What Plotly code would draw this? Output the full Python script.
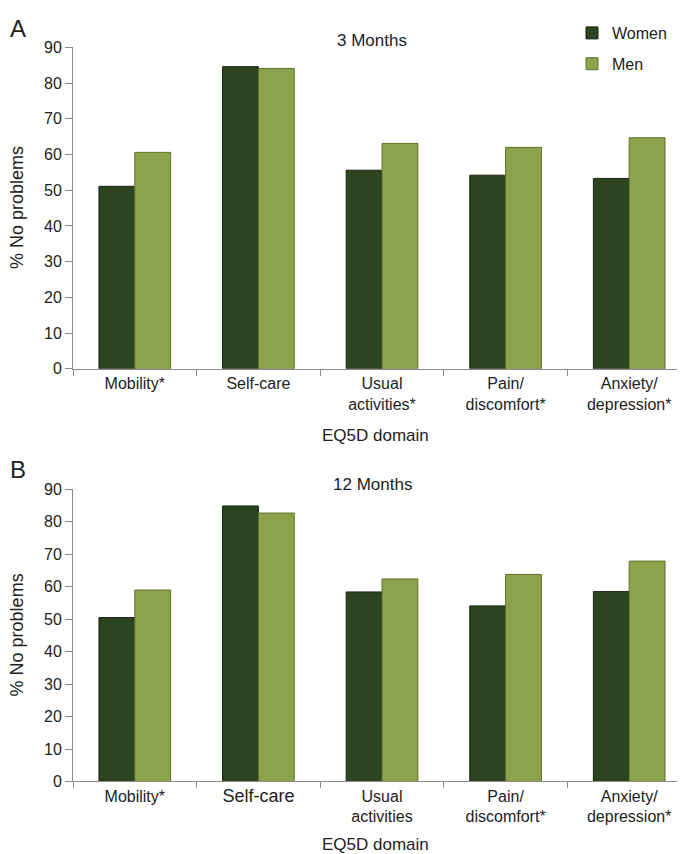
import plotly.graph_objects as go

domains = ["Mobility", "Self-care", "Usual activities", "Pain/discomfort", "Anxiety/depression"]
labels_3m = ["Mobility*", "Self-care", "Usual<br>activities*", "Pain/<br>discomfort*", "Anxiety/<br>depression*"]
labels_12m = ["Mobility*", "<span style='font-size:18px'>Self-care</span>", "Usual<br>activities",
              "Pain/<br>discomfort*", "Anxiety/<br>depression*"]

women_3m = [51.1, 84.6, 55.6, 54.2, 53.3]
men_3m = [60.6, 84.1, 63.1, 62.0, 64.7]
women_12m = [50.5, 84.9, 58.4, 54.1, 58.5]
men_12m = [59.0, 82.7, 62.4, 63.8, 67.9]

W = 685
H = 854
WOMEN_COL = "#2c4421"
MEN_COL = "#8da34b"
FONT = "Liberation Sans, Arial, sans-serif"


def py(px):
    # pixel row -> paper coordinate
    return 1 - px / H


fig = go.Figure()
fig.add_trace(go.Bar(x=domains, y=women_3m, name="Women", marker=dict(color=WOMEN_COL, line=dict(color="#18260f", width=1)),
                     xaxis="x", yaxis="y", legendgroup="w"))
fig.add_trace(go.Bar(x=domains, y=men_3m, name="Men", marker=dict(color=MEN_COL, line=dict(color="#5f7229", width=1)),
                     xaxis="x", yaxis="y", legendgroup="m"))
fig.add_trace(go.Bar(x=domains, y=women_12m, name="Women", marker=dict(color=WOMEN_COL, line=dict(color="#18260f", width=1)),
                     xaxis="x2", yaxis="y2", showlegend=False))
fig.add_trace(go.Bar(x=domains, y=men_12m, name="Men", marker=dict(color=MEN_COL, line=dict(color="#5f7229", width=1)),
                     xaxis="x2", yaxis="y2", showlegend=False))

xdom = [65 / W, 683 / W]
xcommon = dict(domain=xdom, type="category", showline=True, linecolor="#8c8c8c", linewidth=1,
               ticks="outside", tickson="boundaries", ticklen=6, tickcolor="#8c8c8c",
               tickfont=dict(family=FONT, size=16, color="#222"), showgrid=False)
ycommon = dict(range=[0, 90], dtick=10, showline=True, linecolor="#8c8c8c", linewidth=1,
               ticks="outside", ticklen=7, tickcolor="#8c8c8c", showgrid=False, zeroline=False,
               tickfont=dict(family=FONT, size=16, color="#222"))

fig.update_layout(
    width=W, height=H,
    margin=dict(l=0, r=0, t=0, b=0),
    paper_bgcolor="white", plot_bgcolor="white",
    barmode="group", bargap=0.42, bargroupgap=0,
    font=dict(family=FONT, color="#222"),
    xaxis=dict(**xcommon, anchor="y", tickvals=domains, ticktext=labels_3m),
    yaxis=dict(**ycommon, domain=[py(360), py(32)], anchor="x"),
    xaxis2=dict(**xcommon, anchor="y2", tickvals=domains, ticktext=labels_12m),
    yaxis2=dict(**ycommon, domain=[py(781), py(483)], anchor="x2"),
    legend=dict(x=564 / W, y=1.0, xanchor="left", yanchor="top", tracegroupgap=7,
                font=dict(family=FONT, size=16, color="#222"), bgcolor="rgba(0,0,0,0)"),
    showlegend=True,
)

ann = [
    ("A", 10, 13, 24, "left"),
    ("3 Months", 364, 25, 17, "center"),
    ("EQ5D domain", 367, 428, 17, "center"),
    ("B", 10, 463, 24, "left"),
    ("12 Months", 364, 478, 17, "center"),
    ("EQ5D domain", 367, 845, 17, "center"),
]
for text, x, y, size, xa in ann:
    fig.add_annotation(text=text, x=x / W if xa == "center" else 0.0, y=py(y), xref="paper", yref="paper",
                       xanchor=xa, yanchor="middle", showarrow=False,
                       font=dict(family=FONT, size=size, color="#222"))

for ycen in (196, 632):
    fig.add_annotation(text="% No problems", x=9 / W, y=py(ycen), xref="paper", yref="paper",
                       textangle=-90, xanchor="center", yanchor="middle", showarrow=False,
                       font=dict(family=FONT, size=18, color="#222"))

fig.write_html("out.html")
